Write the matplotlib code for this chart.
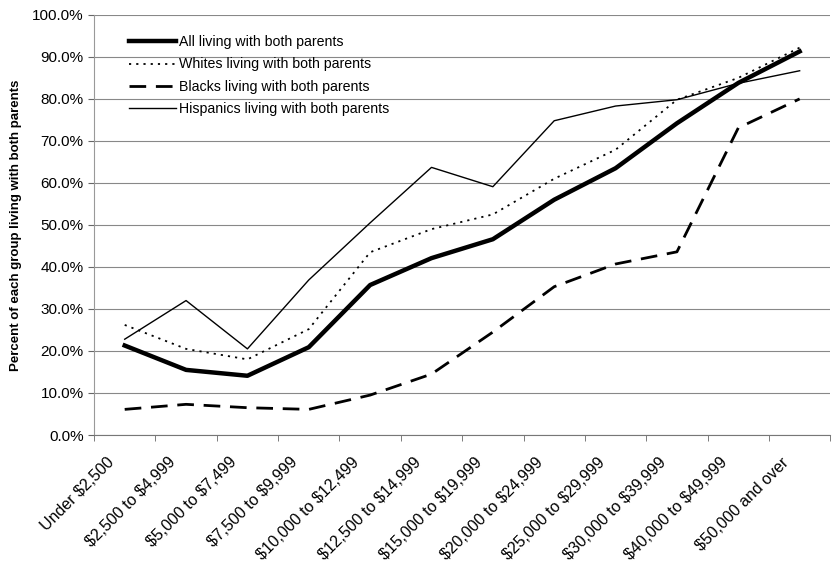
import matplotlib.pyplot as plt
import matplotlib.ticker as mticker
from matplotlib.transforms import ScaledTranslation
import numpy as np

plt.rcParams['font.family'] = ['Liberation Sans', 'DejaVu Sans']
plt.rcParams['text.parse_math'] = False

# income brackets
categories = ["Under $2,500", "$2,500 to $4,999", "$5,000 to $7,499", "$7,500 to $9,999",
              "$10,000 to $12,499", "$12,500 to $14,999", "$15,000 to $19,999",
              "$20,000 to $24,999", "$25,000 to $29,999", "$30,000 to $39,999",
              "$40,000 to $49,999", "$50,000 and over"]

# share living with both parents (fraction)
all_kids = [0.213, 0.155, 0.141, 0.209, 0.357, 0.421, 0.466, 0.560, 0.635, 0.742, 0.838, 0.913]
whites = [0.262, 0.205, 0.180, 0.252, 0.435, 0.490, 0.525, 0.610, 0.679, 0.798, 0.850, 0.922]
blacks = [0.061, 0.073, 0.065, 0.061, 0.095, 0.145, 0.245, 0.353, 0.407, 0.436, 0.731, 0.800]
hispanics = [0.228, 0.320, 0.205, 0.369, 0.505, 0.637, 0.591, 0.748, 0.783, 0.798, 0.837, 0.867]

fig = plt.figure(figsize=(8.32, 5.72), dpi=100)
ax = fig.add_axes([0.113, 0.2395, 0.885, 0.7345])

x = np.arange(len(categories))

ax.plot(x, all_kids, color="black", lw=3.2, solid_joinstyle="round", label="All living with both parents")
ax.plot(x, whites, color="black", lw=1.3, linestyle=(0, (1.2, 2.8)), label="Whites living with both parents")
ax.plot(x, blacks, color="black", lw=2.0, linestyle=(0, (6, 3.5)), label="Blacks living with both parents")
ax.plot(x, hispanics, color="black", lw=1.0, label="Hispanics living with both parents")

ax.set_xlim(-0.5, len(categories) - 0.5)
ax.set_ylim(0, 1.0)
ax.yaxis.set_major_locator(mticker.MultipleLocator(0.1))
ax.yaxis.set_major_formatter(mticker.FuncFormatter(lambda v, p: f"{v*100:.1f}%"))
ax.grid(axis="y", color="#888888", lw=0.8)
ax.set_axisbelow(True)

ax.set_xticks(x)
ax.set_xticklabels(categories, rotation=45, ha="right", va="center",
                   rotation_mode="anchor", fontsize=11.5)
ax.set_xticks(np.arange(-0.5, len(categories) + 0.5, 1), minor=True)
ax.tick_params(axis="x", which="major", length=0, pad=18)
ax.tick_params(axis="x", which="minor", length=4, color="#666666")
ax.tick_params(axis="y", length=4, color="#666666", labelsize=11)

# shift the rotated labels to the left, like the original (after tick_params)
shift = ScaledTranslation(-9.5 / 72, 0, fig.dpi_scale_trans)
for lbl in ax.get_xticklabels():
    lbl.set_transform(lbl.get_transform() + shift)

for s in ["top", "right"]:
    ax.spines[s].set_visible(False)
ax.spines["left"].set_color("#999999")
ax.spines["bottom"].set_color("#777777")

ax.set_ylabel("Percent of each group living with both parents", fontsize=9.5, fontweight="bold", labelpad=7)

ax.legend(loc="upper left", bbox_to_anchor=(0.04, 0.965), frameon=False, fontsize=10.2,
          handlelength=3.3, handletextpad=0.2, labelspacing=0.58, borderaxespad=0)

fig.savefig("out.png", dpi=100)
